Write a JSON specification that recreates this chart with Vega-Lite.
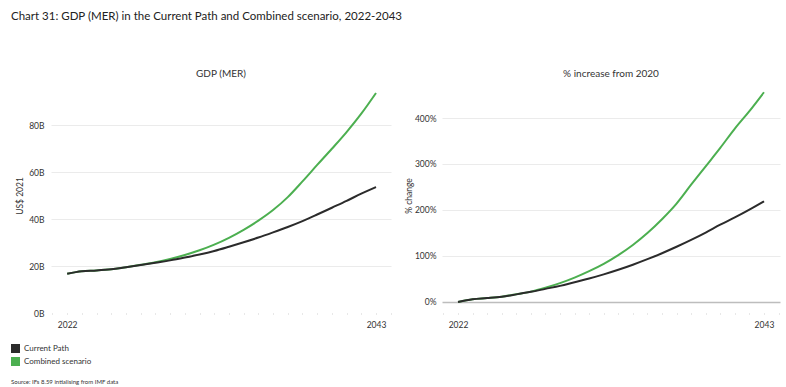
{
  "$schema": "https://vega.github.io/schema/vega-lite/v6.json",
  "padding": {"left": 11, "top": 10, "right": 8, "bottom": 5},
  "background": "white",
  "title": {
    "text": "Chart 31: GDP (MER) in the Current Path and Combined scenario, 2022-2043",
    "anchor": "start",
    "frame": "bounds",
    "font": "Lato",
    "fontSize": 11.5,
    "fontWeight": "normal",
    "color": "#222",
    "offset": 47
  },
  "data": {
    "values": [
      {"year": 2022, "scenario": "Combined scenario", "gdp": 16.7, "pct": 0},
      {"year": 2023, "scenario": "Combined scenario", "gdp": 17.8, "pct": 6},
      {"year": 2024, "scenario": "Combined scenario", "gdp": 18.1, "pct": 8.5},
      {"year": 2025, "scenario": "Combined scenario", "gdp": 18.6, "pct": 11.5},
      {"year": 2026, "scenario": "Combined scenario", "gdp": 19.5, "pct": 16.7},
      {"year": 2027, "scenario": "Combined scenario", "gdp": 20.5, "pct": 22.5},
      {"year": 2028, "scenario": "Combined scenario", "gdp": 21.6, "pct": 31},
      {"year": 2029, "scenario": "Combined scenario", "gdp": 23.0, "pct": 41},
      {"year": 2030, "scenario": "Combined scenario", "gdp": 24.7, "pct": 53},
      {"year": 2031, "scenario": "Combined scenario", "gdp": 26.7, "pct": 67},
      {"year": 2032, "scenario": "Combined scenario", "gdp": 29.1, "pct": 83},
      {"year": 2033, "scenario": "Combined scenario", "gdp": 32.0, "pct": 102},
      {"year": 2034, "scenario": "Combined scenario", "gdp": 35.4, "pct": 124},
      {"year": 2035, "scenario": "Combined scenario", "gdp": 39.3, "pct": 150},
      {"year": 2036, "scenario": "Combined scenario", "gdp": 43.8, "pct": 180},
      {"year": 2037, "scenario": "Combined scenario", "gdp": 49.3, "pct": 214},
      {"year": 2038, "scenario": "Combined scenario", "gdp": 56.0, "pct": 255},
      {"year": 2039, "scenario": "Combined scenario", "gdp": 63.0, "pct": 295},
      {"year": 2040, "scenario": "Combined scenario", "gdp": 69.9, "pct": 335},
      {"year": 2041, "scenario": "Combined scenario", "gdp": 77.0, "pct": 377},
      {"year": 2042, "scenario": "Combined scenario", "gdp": 84.8, "pct": 415},
      {"year": 2043, "scenario": "Combined scenario", "gdp": 93.6, "pct": 456},
      {"year": 2022, "scenario": "Current Path", "gdp": 16.7, "pct": 0},
      {"year": 2023, "scenario": "Current Path", "gdp": 17.8, "pct": 6},
      {"year": 2024, "scenario": "Current Path", "gdp": 18.1, "pct": 8.5},
      {"year": 2025, "scenario": "Current Path", "gdp": 18.6, "pct": 11.5},
      {"year": 2026, "scenario": "Current Path", "gdp": 19.5, "pct": 16.5},
      {"year": 2027, "scenario": "Current Path", "gdp": 20.4, "pct": 22},
      {"year": 2028, "scenario": "Current Path", "gdp": 21.4, "pct": 28.5},
      {"year": 2029, "scenario": "Current Path", "gdp": 22.4, "pct": 35},
      {"year": 2030, "scenario": "Current Path", "gdp": 23.6, "pct": 43},
      {"year": 2031, "scenario": "Current Path", "gdp": 24.9, "pct": 51},
      {"year": 2032, "scenario": "Current Path", "gdp": 26.4, "pct": 60},
      {"year": 2033, "scenario": "Current Path", "gdp": 28.2, "pct": 70},
      {"year": 2034, "scenario": "Current Path", "gdp": 30.1, "pct": 81},
      {"year": 2035, "scenario": "Current Path", "gdp": 32.1, "pct": 93},
      {"year": 2036, "scenario": "Current Path", "gdp": 34.3, "pct": 106},
      {"year": 2037, "scenario": "Current Path", "gdp": 36.6, "pct": 120},
      {"year": 2038, "scenario": "Current Path", "gdp": 39.1, "pct": 135},
      {"year": 2039, "scenario": "Current Path", "gdp": 41.9, "pct": 151},
      {"year": 2040, "scenario": "Current Path", "gdp": 44.8, "pct": 168},
      {"year": 2041, "scenario": "Current Path", "gdp": 47.7, "pct": 184},
      {"year": 2042, "scenario": "Current Path", "gdp": 50.8, "pct": 201},
      {"year": 2043, "scenario": "Current Path", "gdp": 53.6, "pct": 219}
    ]
  },
  "spacing": 12,
  "hconcat": [
    {
      "width": 340,
      "height": 235,
      "title": {"text": "GDP (MER)"},
      "mark": {"type": "line", "strokeWidth": 2, "interpolate": "monotone"},
      "encoding": {
        "x": {
          "field": "year", "type": "quantitative",
          "scale": {"domain": [2020.9, 2044.02], "nice": false, "zero": false},
          "axis": {"title": null, "values": [2021,2022,2023,2024,2025,2026,2027,2028,2029,2030,2031,2032,2033,2034,2035,2036,2037,2038,2039,2040,2041,2042,2043,2044],
                   "labelExpr": "datum.value == 2022 || datum.value == 2043 ? datum.value : ''", "grid": false, "ticks": true, "tickSize": 1, "tickColor": "#d0d0d0", "labelPadding": 6, "labelOverlap": false, "labelFlush": false}
        },
        "y": {
          "field": "gdp", "type": "quantitative",
          "scale": {"domain": [0, 100], "nice": false},
          "axis": {"title": "US$ 2021", "values": [0, 20, 40, 60, 80], "labelExpr": "datum.value + 'B'", "labelPadding": 7, "titlePadding": 4,
                   "gridColor": {"condition": {"test": "datum.value === 0", "value": "transparent"}, "value": "#ebebeb"}}
        },
        "color": {
          "field": "scenario", "type": "nominal",
          "scale": {"domain": ["Current Path", "Combined scenario"], "range": ["#2b2b2b", "#4caf50"]},
          "legend": {
            "orient": "none", "legendX": -40, "legendY": 266, "title": "Source: IFs 8.59 intialising from IMF data", "titleOrient": "bottom",
            "titleFontSize": 6, "titleFontWeight": "normal", "titleFont": "Lato", "titleColor": "#333", "titlePadding": 13,
            "symbolType": "square", "symbolSize": 81, "symbolStrokeWidth": 0, "symbolOpacity": 1,
            "labelFont": "Lato", "labelFontSize": 8, "labelColor": "#333", "labelOffset": 4, "rowPadding": 4, "padding": 0,
            "encode": {"symbols": {"update": {"fill": {"scale": "color", "field": "value"}, "strokeWidth": {"value": 0}}}}
          }
        }
      }
    },
    {
      "width": 338,
      "height": 235,
      "title": {"text": "% increase from 2020"},
      "layer": [
        {
          "mark": {"type": "line", "strokeWidth": 2, "interpolate": "monotone"},
          "encoding": {
            "x": {
              "field": "year", "type": "quantitative",
              "scale": {"domain": [2020.9, 2044.1], "nice": false, "zero": false},
              "axis": {"title": null, "values": [2021,2022,2023,2024,2025,2026,2027,2028,2029,2030,2031,2032,2033,2034,2035,2036,2037,2038,2039,2040,2041,2042,2043,2044],
                       "labelExpr": "datum.value == 2022 || datum.value == 2043 ? datum.value : ''", "grid": false, "ticks": true, "tickSize": 1, "tickColor": "#d0d0d0", "labelPadding": 6, "labelOverlap": false, "labelFlush": false}
            },
            "y": {
              "field": "pct", "type": "quantitative",
              "scale": {"domain": [-24, 487], "nice": false, "zero": false},
              "axis": {"title": "% change", "values": [0, 100, 200, 300, 400], "labelExpr": "datum.value + '%'", "labelPadding": 6, "titlePadding": 1,
                       "gridColor": {"condition": {"test": "datum.value === 0", "value": "#bdbdbd"}, "value": "#ebebeb"},
                       "gridWidth": {"condition": {"test": "datum.value === 0", "value": 1.5}, "value": 1}}
            },
            "color": {"field": "scenario", "type": "nominal"}
          }
        }
      ]
    }
  ],
  "config": {
    "font": "Lato",
    "view": {"stroke": null},
    "axis": {
      "labelFont": "Lato", "labelFontSize": 8.5, "labelColor": "#333",
      "titleFont": "Lato", "titleFontSize": 8.5, "titleFontWeight": "normal", "titleColor": "#333",
      "domain": false, "ticks": false, "grid": true, "gridColor": "#ebebeb"
    },
    "title": {"font": "Lato", "fontSize": 10, "fontWeight": "normal", "color": "#333", "offset": -1}
  }
}
